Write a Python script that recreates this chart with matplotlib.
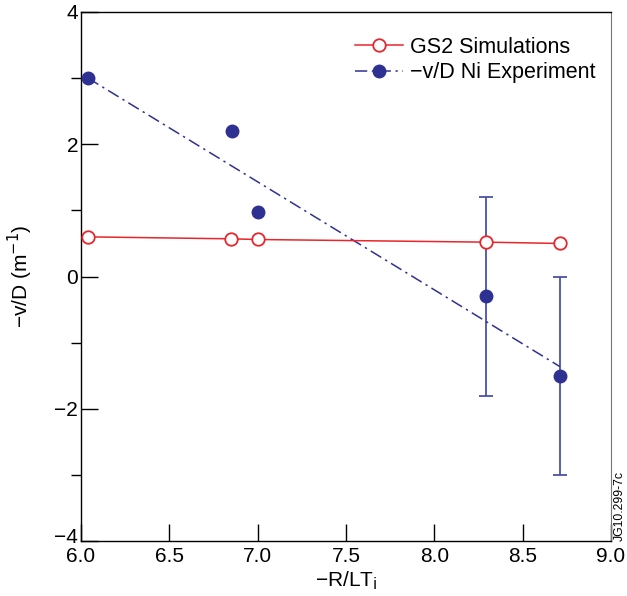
import matplotlib
matplotlib.use("Agg")
import matplotlib.pyplot as plt
import matplotlib.transforms as mtransforms
from matplotlib.ticker import MultipleLocator, FormatStrFormatter

plt.rcParams['font.family'] = ['Liberation Sans', 'DejaVu Sans']

# GS2 simulazioni
gs2_x = [6.04, 6.85, 7.0, 8.29, 8.71]
gs2_y = [0.60, 0.57, 0.56, 0.52, 0.50]

# Esperimento Ni (-v/D)
exp_x = [6.04, 6.855, 7.0, 8.29, 8.71]
exp_y = [3.0, 2.2, 0.98, -0.3, -1.5]
exp_err = [0.0, 0.0, 0.0, 1.5, 1.5]

# Retta di fit
fit_x = [6.04, 8.71]
fit_y = [3.0, -1.36]

red = '#e8262b'
navy = '#2e3192'
errblue = '#4b50a8'

fig = plt.figure(figsize=(6.27, 5.96), dpi=100)
ax = fig.add_axes([0.129, 0.092, 0.8455, 0.888])

# Barre d'errore solo dove presenti
for x, y, e in zip(exp_x, exp_y, exp_err):
    if e > 0:
        ax.errorbar([x], [y], yerr=[e], fmt='none', ecolor=errblue,
                    elinewidth=1.3, capsize=5, capthick=1.3, zorder=2)

ax.plot(fit_x, fit_y, color=navy, lw=1.1, dashes=[8, 3, 1.5, 3], zorder=2)
ax.plot(gs2_x, gs2_y, '-o', color=red, lw=1.1, markersize=9,
        markerfacecolor='white', markeredgecolor=red, markeredgewidth=1.3,
        zorder=3)
ax.plot(exp_x, exp_y, 'o', color=navy, markersize=9, zorder=4)

# Voci della legenda
h1, = ax.plot([], [], '-o', color=red, lw=1.1, markersize=9,
              markerfacecolor='white', markeredgecolor=red, markeredgewidth=1.3)
h2, = ax.plot([], [], 'o', color=navy, markersize=9, lw=1.1,
              linestyle=(0, (8, 3, 1.5, 3)))
ax.legend([h1, h2], ['GS2 Simulations', '\u2212v/D Ni Experiment'],
          loc='upper right', bbox_to_anchor=(1.008, 0.99), frameon=False,
          fontsize=15.5, handlelength=2.2, handletextpad=0.35,
          labelspacing=0.22)

ax.set_xlim(6.0, 9.0)
ax.set_ylim(-4, 4)
ax.xaxis.set_major_locator(MultipleLocator(0.5))
ax.xaxis.set_major_formatter(FormatStrFormatter('%.1f'))
ax.yaxis.set_major_locator(MultipleLocator(2))
ax.yaxis.set_minor_locator(MultipleLocator(1))
ax.tick_params(axis='both', direction='in', labelsize=15, width=1,
               top=False, right=False)
ax.tick_params(axis='y', which='major', length=12, pad=2)
ax.tick_params(axis='y', which='minor', length=7, width=1)
ax.tick_params(axis='x', which='major', length=12, pad=4.5)
ax.set_yticks([-4, -2, 0, 2, 4])
ax.set_yticklabels(['\u22124', '\u22122', '0', '2', '4'])

# l'etichetta -4 leggermente più in alto, per non toccare il 6.0
lab = ax.get_yticklabels()[0]
lab.set_transform(lab.get_transform() +
                  mtransforms.ScaledTranslation(0, 4 / 72, fig.dpi_scale_trans))

for s in ['left', 'bottom', 'top']:
    ax.spines[s].set_linewidth(1.0)
ax.spines['right'].set_color('#777777')

ax.set_xlabel('\u2212R/LT$_{\\mathrm{i}}$', fontsize=15, labelpad=2)
ax.set_ylabel('\u2212v/D (m$^{-1}$)', fontsize=15, labelpad=14)

fig.text(0.988, 0.092, 'JG10.299-7c', rotation=90, fontsize=8.8,
         ha='center', va='bottom')

fig.savefig('out.png', dpi=100)
